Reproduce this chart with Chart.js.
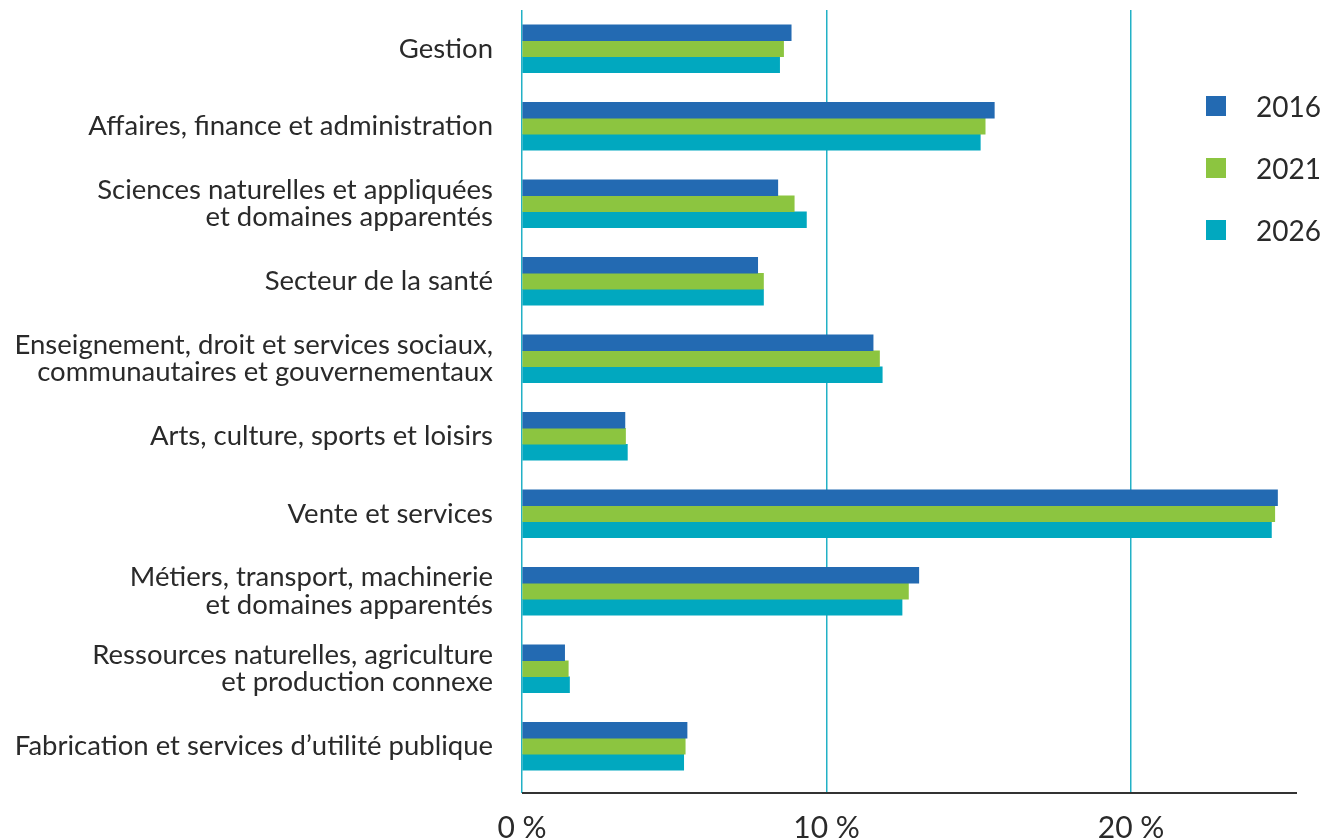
<!DOCTYPE html>
<html lang="fr">
<head>
<meta charset="utf-8">
<title>Répartition de l'emploi par profession</title>
<script src="https://cdn.jsdelivr.net/npm/chart.js@4.4.1/dist/chart.umd.min.js"></script>
<style>
    html, body { margin: 0; padding: 0; background: #fff; }
    #wrap { position: relative; width: 1330px; height: 838px; }
    #legend { position: absolute; left: 1206px; top: 92px; font-family: Lato, sans-serif; font-size: 28px; color: #2a2a2a; }
    #legend .item { display: flex; align-items: center; height: 28px; margin-bottom: 34px; }
    #legend .box { width: 20px; height: 20px; margin-right: 30px; }
</style>
</head>
<body>
<div id="wrap">
    <canvas id="jobsChart" width="1330" height="838"></canvas>
    <div id="legend"></div>
</div>
<script>
const categories = [
    'Gestion',
    'Affaires, finance et administration',
    ['Sciences naturelles et appliquées', 'et domaines apparentés'],
    'Secteur de la santé',
    ['Enseignement, droit et services sociaux,', 'communautaires et gouvernementaux'],
    'Arts, culture, sports et loisirs',
    'Vente et services',
    ['Métiers, transport, machinerie', 'et domaines apparentés'],
    ['Ressources naturelles, agriculture', 'et production connexe'],
    'Fabrication et services d\u2019utilité publique'
];

const seriesNames = ['2016', '2021', '2026'];
const values2016 = [8.84, 15.51, 8.40, 7.74, 11.53, 3.38, 24.81, 13.03, 1.40, 5.42];
const values2021 = [8.59, 15.21, 8.94, 7.93, 11.74, 3.40, 24.72, 12.69, 1.52, 5.36];
const values2026 = [8.46, 15.05, 9.34, 7.93, 11.83, 3.46, 24.61, 12.48, 1.56, 5.31];
const tickValues = [0, 10, 20];

const colors = ['#236ab2', '#8cc540', '#01a8bf'];
const gridColor = '#22b1c6';
const textColor = '#2a2a2a';

// black baseline drawn just under the grid ticks
const baselinePlugin = {
    id: 'baseline',
    afterDraw(chart) {
        const { ctx, chartArea } = chart;
        const y = chartArea.bottom + 8;
        ctx.save();
        ctx.strokeStyle = '#333';
        ctx.lineWidth = 2;
        ctx.beginPath();
        ctx.moveTo(chartArea.left, y);
        ctx.lineTo(chartArea.right, y);
        ctx.stroke();
        ctx.restore();
    }
};

const ctx = document.getElementById('jobsChart').getContext('2d');
const chart = new Chart(ctx, {
    type: 'bar',
    data: {
        labels: categories,
        datasets: [values2016, values2021, values2026].map((vals, i) => ({
            label: seriesNames[i],
            data: vals,
            backgroundColor: colors[i],
            borderWidth: 0,
            barThickness: 16
        }))
    },
    options: {
        indexAxis: 'y',
        responsive: false,
        animation: false,
        layout: { padding: { top: 10, right: 33, left: 0, bottom: 0 } },
        plugins: {
            legend: { display: false },
            tooltip: { enabled: false }
        },
        scales: {
            y: {
                grid: { display: false },
                border: { display: false },
                afterFit(scale) {
                    scale.width = 522;
                    // no extra room above/below for the first and last labels
                    scale.paddingTop = 0;
                    scale.paddingBottom = 0;
                },
                ticks: {
                    padding: 21,
                    color: textColor,
                    font: { family: 'Lato', size: 27.5, lineHeight: 1.0 }
                }
            },
            x: {
                min: 0,
                max: 25.45,
                border: { display: false },
                grid: { color: gridColor, lineWidth: 1.5, drawTicks: true, tickLength: 8 },
                afterFit(scale) { scale.height = 53; },
                afterBuildTicks(scale) { scale.ticks = tickValues.map(v => ({ value: v })); },
                ticks: {
                    padding: 17,
                    color: textColor,
                    font: { family: 'Lato', size: 30 },
                    callback: v => v + ' %'
                }
            }
        }
    },
    plugins: [baselinePlugin]
});

// legend built from the chart datasets
const legend = document.getElementById('legend');
chart.data.datasets.forEach(ds => {
    const item = document.createElement('div');
    item.className = 'item';
    item.innerHTML = `<span class="box" style="background:${ds.backgroundColor}"></span><span>${ds.label}</span>`;
    legend.appendChild(item);
});
</script>
</body>
</html>
